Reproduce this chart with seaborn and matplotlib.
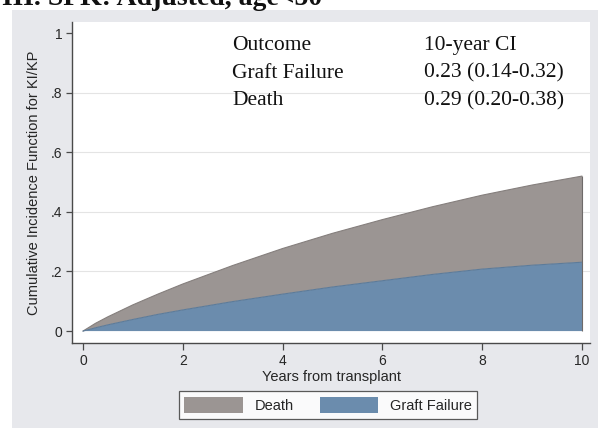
import matplotlib
matplotlib.use("Agg")
import matplotlib.pyplot as plt
from matplotlib.patches import Rectangle, Patch
import numpy as np
import pandas as pd
import seaborn as sns

# Cumulative incidence (competing risks), years since transplant
years = [0, 0.25, 0.5, 1, 1.5, 2, 3, 4, 5, 6, 7, 8, 9, 10]
graft_failure_cif = [0, 0.011, 0.021, 0.039, 0.056, 0.071, 0.099, 0.124, 0.148, 0.169,
                     0.190, 0.208, 0.221, 0.231]
death_cif = [0, 0.015, 0.027, 0.049, 0.068, 0.087, 0.121, 0.153, 0.180, 0.205,
             0.227, 0.248, 0.269, 0.289]

y_ticks = [0, 0.2, 0.4, 0.6, 0.8, 1.0]
y_tick_labels = ["0", ".2", ".4", ".6", ".8", "1"]
x_ticks = [0, 2, 4, 6, 8, 10]

table_rows = [("Outcome", "10-year CI"),
              ("Graft Failure", "0.23 (0.14-0.32)"),
              ("Death", "0.29 (0.20-0.38)")]

df = pd.DataFrame({"years": years, "graft": graft_failure_cif, "death": death_cif})
df["total"] = df["graft"] + df["death"]

sns.set_theme(style="white")
plt.rcParams["font.family"] = ["Liberation Sans", "DejaVu Sans"]

GRAY = "#9b9593"
BLUE = "#6b8cad"
PANEL = "#e7e8ec"
AXC = "#4a4a4a"
TXT = "#262626"

W, H = 610, 428
fig = plt.figure(figsize=(W / 100, H / 100), dpi=100)
fig.patch.set_facecolor("white")
fig.patches.append(Rectangle((12 / W, 0), (598 - 12) / W, (H - 10) / H,
                             transform=fig.transFigure, facecolor=PANEL,
                             edgecolor="none", zorder=-10))

ax = fig.add_axes([72 / W, (H - 343) / H, (590 - 72) / W, (343 - 22) / H])
ax.set_zorder(1)
ax.set_facecolor("white")

# stacked areas: graft failure at the bottom, death on top
ax.fill_between(df["years"], 0, df["graft"], facecolor=BLUE, edgecolor="none", zorder=2)
ax.fill_between(df["years"], df["graft"], df["total"], facecolor=GRAY, edgecolor="none", zorder=2)
sns.lineplot(data=df, x="years", y="total", ax=ax, color="#857f7d", linewidth=0.8, zorder=3)
sns.lineplot(data=df, x="years", y="graft", ax=ax, color="#5d7b99", linewidth=0.8, zorder=3)
ax.vlines(10, 0, df["total"].iloc[-1], color="#6e6a69", linewidth=0.8, zorder=3)

ax.set_xlim(-0.22, 10.16)
ax.set_ylim(-0.04, 1.037)

for yv in y_ticks[1:-1]:
    ax.axhline(yv, color="#e4e4e4", linewidth=0.8, zorder=1)

ax.set_xticks(x_ticks)
ax.set_xticklabels([str(v) for v in x_ticks])
ax.set_yticks(y_ticks)
ax.set_yticklabels(y_tick_labels)
ax.tick_params(axis="both", which="major", direction="out", length=4, width=0.9,
               color=AXC, labelcolor=TXT, labelsize=10, pad=3)
ax.tick_params(axis="x", length=5)
ax.tick_params(left=True, bottom=True)

for side in ["top", "right"]:
    ax.spines[side].set_visible(False)
for side in ["left", "bottom"]:
    ax.spines[side].set_color(AXC)
    ax.spines[side].set_linewidth(1.0)

ax.set_xlabel("Years from transplant", fontsize=10.5, color=TXT, labelpad=1)
ax.set_ylabel("Cumulative Incidence Function for KI/KP", fontsize=10.5, color=TXT, labelpad=7)

# estimates table inside the plot
serif = ["Liberation Serif", "DejaVu Serif"]
for i, (left, right) in enumerate(table_rows):
    yb = 1 - (50 + 27.5 * i) / H
    fig.text(232 / W, yb, left, fontsize=15.5, family=serif, va="baseline",
             color="#111111", zorder=5)
    fig.text(424 / W, yb, right, fontsize=15.5, family=serif, va="baseline",
             color="#111111", zorder=5)

# panel heading
fig.text(2 / W, 1 - 5 / H, "III. SPK: Adjusted, age<50", fontsize=20, weight="bold",
         family=serif, va="baseline", color="#111111")

handles = [Patch(facecolor=GRAY, edgecolor="none"), Patch(facecolor=BLUE, edgecolor="none")]
leg = fig.legend(handles, ["Death", "Graft Failure"], loc="center",
                 bbox_to_anchor=(328 / W, 1 - 405 / H), ncol=2, frameon=True,
                 fancybox=False, fontsize=10.5, handlelength=4.0, handleheight=1.3,
                 columnspacing=1.8, handletextpad=0.8, borderpad=0.4)
leg.get_frame().set_edgecolor("#333333")
leg.get_frame().set_linewidth(0.9)
leg.get_frame().set_facecolor("white")

fig.savefig("out.png", dpi=100, facecolor="white")
